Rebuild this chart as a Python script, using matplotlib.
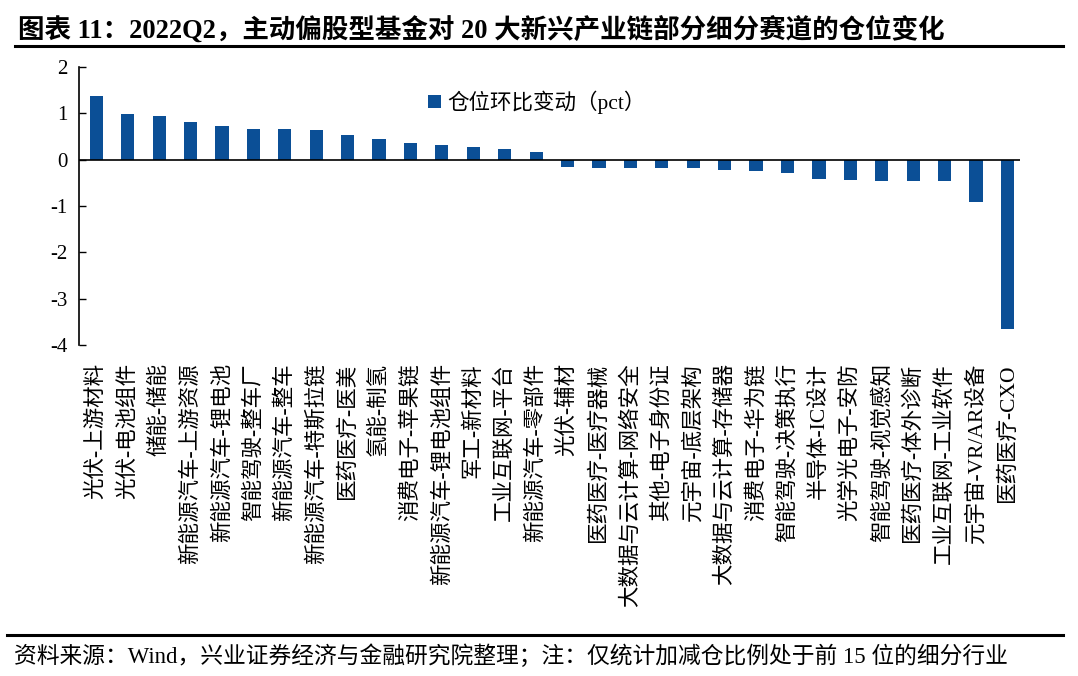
import matplotlib
matplotlib.use("Agg")
import matplotlib.pyplot as plt
from matplotlib.lines import Line2D

categories = [
    "光伏-上游材料", "光伏-电池组件", "储能-储能", "新能源汽车-上游资源", "新能源汽车-锂电池",
    "智能驾驶-整车厂", "新能源汽车-整车", "新能源汽车-特斯拉链", "医药医疗-医美", "氢能-制氢",
    "消费电子-苹果链", "新能源汽车-锂电池组件", "军工-新材料", "工业互联网-平台", "新能源汽车-零部件",
    "光伏-辅材", "医药医疗-医疗器械", "大数据与云计算-网络安全", "其他-电子身份证", "元宇宙-底层架构",
    "大数据与云计算-存储器", "消费电子-华为链", "智能驾驶-决策执行", "半导体-IC设计", "光学光电子-安防",
    "智能驾驶-视觉感知", "医药医疗-体外诊断", "工业互联网-工业软件", "元宇宙-VR/AR设备", "医药医疗-CXO",
]
values = [
    1.38, 0.99, 0.94, 0.81, 0.72, 0.66, 0.66, 0.64, 0.53, 0.44,
    0.35, 0.31, 0.27, 0.23, 0.17,
    -0.16, -0.17, -0.17, -0.19, -0.19, -0.22, -0.25, -0.29, -0.42, -0.43,
    -0.45, -0.45, -0.47, -0.91, -3.66,
]
yticks = [2, 1, 0, -1, -2, -3, -4]
series_name = "仓位环比变动（pct）"
title = "图表 11：2022Q2，主动偏股型基金对 20 大新兴产业链部分细分赛道的仓位变化"
footer = "资料来源：Wind，兴业证券经济与金融研究院整理；注：仅统计加减仓比例处于前 15 位的细分行业"

FAM = ["Liberation Serif", "Noto Sans CJK SC"]
plt.rcParams["font.family"] = FAM

W, H = 1078, 676
fig = plt.figure(figsize=(W / 100, H / 100), dpi=100)
ax = fig.add_axes([79 / W, 1 - 345 / H, (1020 - 79) / W, (345 - 67) / H])

color = "#0B4F96"
x = list(range(len(categories)))
ax.bar(x, values, width=0.42, color=color, label=series_name, zorder=2)
ax.axhline(0, color="black", lw=1.2, zorder=3)

ax.set_ylim(-4, 2)
ax.set_xlim(-0.55, len(categories) - 0.6)
ax.set_yticks(yticks)
ax.set_yticklabels([str(v) for v in yticks], fontsize=15)
ax.tick_params(axis="y", direction="in", length=5, width=1, pad=8)
ax.set_xticks(x)
ax.set_xticklabels(categories, rotation=90, fontsize=15.5, va="top", ha="center")
ax.tick_params(axis="x", length=0, pad=13)
for s in ["top", "right", "bottom"]:
    ax.spines[s].set_visible(False)
ax.spines["left"].set_linewidth(1.2)

leg = ax.legend(loc="upper left", bbox_to_anchor=(0.35, 0.985), frameon=False,
                fontsize=15.5, handlelength=0.6, handleheight=0.6, handletextpad=0.3)

fig.text(18 / W, 1 - 30 / H, title, fontsize=19.1, fontweight="bold", va="center", ha="left")
fig.add_artist(Line2D([15 / W, 1063 / W], [1 - 46 / H, 1 - 46 / H], color="black", lw=2.2))
fig.add_artist(Line2D([7 / W, 1063 / W], [1 - 635 / H, 1 - 635 / H], color="black", lw=2.2))
fig.text(14 / W, 1 - 656 / H, footer, fontsize=16.4, va="center", ha="left")

fig.savefig("out.png", dpi=100)
